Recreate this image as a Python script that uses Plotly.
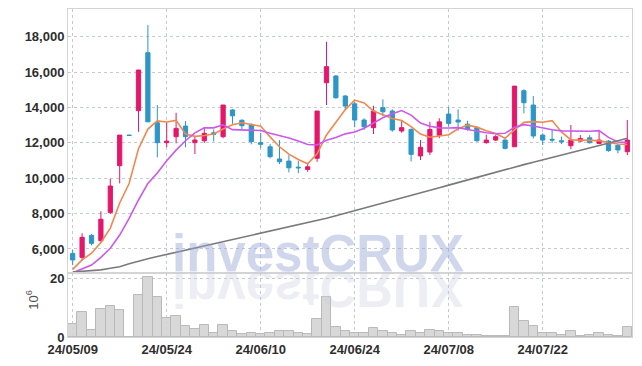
import plotly.graph_objects as go
from plotly.subplots import make_subplots

dates = ["24/05/09", "24/05/10", "24/05/13", "24/05/14", "24/05/16", "24/05/17", "24/05/20", "24/05/21", "24/05/22", "24/05/23",
         "24/05/24", "24/05/27", "24/05/28", "24/05/29", "24/05/30", "24/05/31", "24/06/03", "24/06/04", "24/06/05", "24/06/07",
         "24/06/10", "24/06/11", "24/06/12", "24/06/13", "24/06/14", "24/06/17", "24/06/18", "24/06/19", "24/06/20", "24/06/21",
         "24/06/24", "24/06/25", "24/06/26", "24/06/27", "24/06/28", "24/07/01", "24/07/02", "24/07/03", "24/07/04", "24/07/05",
         "24/07/08", "24/07/09", "24/07/10", "24/07/11", "24/07/12", "24/07/15", "24/07/16", "24/07/17", "24/07/18", "24/07/19",
         "24/07/22", "24/07/23", "24/07/24", "24/07/25", "24/07/26", "24/07/29", "24/07/30", "24/07/31", "24/08/01", "24/08/02"]

tick_labels = ["24/05/09", "24/05/24", "24/06/10", "24/06/24", "24/07/08", "24/07/22"]

open_ = [5750, 5530, 6770, 6470, 8070, 10710, 12440, 13820, 17100, 13140,
         12010, 12350, 12950, 12010, 12120, 12570, 12350, 13860, 13280, 13010,
         12010, 11780, 11090, 10970, 10630, 10500, 11130, 15400, 15780, 14650,
         14210, 13290, 12860, 13990, 13800, 12670, 12760, 11260, 11480, 12430,
         13630, 13290, 13060, 12860, 12010, 12160, 12160, 11780, 14950, 14140,
         12440, 12200, 12120, 11840, 12100, 12290, 11970, 12100, 11860, 11500]
high = [5940, 6890, 6850, 8130, 9970, 12440, 12450, 16120, 18660, 14140,
        13150, 13700, 13230, 12400, 12900, 12760, 14140, 13910, 13330, 13100,
        12570, 11930, 12160, 11310, 10990, 10880, 13800, 17720, 15830, 14700,
        14330, 13390, 14100, 14460, 13900, 13290, 12820, 12160, 13190, 13390,
        14040, 13900, 13250, 12920, 12460, 12440, 12200, 15210, 15030, 14650,
        12540, 12760, 12350, 13010, 12440, 12440, 12730, 12160, 11920, 13290]
low = [5080, 5340, 6210, 6410, 7970, 9710, 12410, 12630, 13190, 11180,
       11750, 11970, 11750, 11370, 12000, 12080, 12260, 13080, 12760, 11920,
       11690, 11120, 10800, 10330, 10280, 10370, 10930, 14140, 14500, 13860,
       12880, 12730, 12500, 13500, 12630, 12570, 10950, 11030, 11310, 12260,
       12910, 12690, 12690, 12060, 11960, 12100, 11630, 11780, 13670, 12250,
       11880, 12010, 11930, 11640, 12060, 11960, 11930, 11500, 11410, 11310]
close = [5380, 6660, 6320, 7680, 9560, 12440, 12420, 16120, 13190, 12010,
         12100, 12820, 12350, 12160, 12540, 12480, 14140, 13530, 12970, 12070,
         11920, 11220, 10930, 10590, 10590, 10650, 13800, 16310, 14550, 14080,
         13290, 12910, 13800, 13760, 12730, 12860, 11350, 11750, 12760, 13190,
         13100, 13180, 12760, 12120, 12160, 12350, 11690, 15210, 14270, 12390,
         12160, 12160, 12060, 12160, 12250, 12010, 12160, 11560, 11600, 12160]

ma_short = [4850, 5380, 5760, 6360, 7180, 8600, 9700, 11670, 12780, 13240,
            13180, 13270, 12500, 12370, 12420, 12500, 12780, 13020, 13140, 13040,
            12940, 12340, 11780, 11360, 11060, 10820, 11380, 12450, 13180, 13880,
            14420, 14260, 13800, 13600, 13380, 13260, 12920, 12500, 12320, 12390,
            12460, 12800, 13000, 12890, 12680, 12530, 12260, 12740, 13160, 13200,
            13170, 13260, 12620, 12170, 12160, 12130, 12130, 12020, 11940, 11910]
ma_mid = [4650, 4850, 5090, 5530, 6040, 6790, 7730, 8770, 9710, 10300,
          10990, 11590, 12120, 12570, 12850, 12850, 13020, 12750, 12730, 12730,
          12700, 12550, 12420, 12270, 12100, 11910, 11880, 12150, 12300, 12510,
          12620, 12830, 13120, 13420, 13640, 13830, 13570, 13120, 12940, 12850,
          12840, 12860, 12760, 12650, 12570, 12520, 12540, 12880, 13030, 12950,
          12840, 12740, 12680, 12670, 12680, 12660, 12690, 12310, 12050, 12020]
ma_long = [4700, 4740, 4780, 4820, 4910, 5000, 5160, 5320, 5450, 5570,
           5690, 5800, 5920, 6030, 6160, 6280, 6420, 6530, 6640, 6760,
           6880, 6990, 7110, 7230, 7340, 7460, 7600, 7740, 7880, 8020,
           8160, 8310, 8450, 8590, 8740, 8880, 9020, 9160, 9310, 9460,
           9610, 9760, 9900, 10060, 10200, 10350, 10500, 10630, 10770, 10910,
           11040, 11180, 11310, 11450, 11580, 11720, 11850, 11990, 12120, 12260]

volume_m = [4.6, 8.5, 2.4, 9.6, 10.6, 9.2, 0.1, 14.3, 20.4, 13.6,
            6.5, 7.2, 3.8, 2.8, 4.1, 1.4, 4.1, 2.1, 1.1, 1.4,
            1.1, 1.4, 2.1, 2.1, 1.4, 1.1, 6.2, 13.6, 3.5, 1.9,
            1.5, 1.2, 2.9, 1.9, 1.2, 0.8, 1.9, 1.2, 2.5, 1.9,
            1.4, 1.4, 0.8, 0.8, 0.4, 0.4, 0.4, 10.2, 5.6, 3.8,
            1.2, 1.2, 0.8, 1.9, 0.4, 0.8, 1.2, 0.8, 0.4, 3.5]

price_ticks = [6000, 8000, 10000, 12000, 14000, 16000, 18000]
volume_ticks = [0, 20]

PINK = "#E5176A"
BLUE = "#2D96C6"
GRID = "#c5cad8"
LINE = "#d4d4d4"
TICKFONT = dict(family="Liberation Sans, Arial, sans-serif", size=13, weight="bold", color="#2e2e2e")

fig = make_subplots(rows=2, cols=1, shared_xaxes=True, vertical_spacing=0,
                    row_heights=[0.805, 0.195])

fig.add_trace(go.Candlestick(
    x=dates, open=open_, high=high, low=low, close=close,
    increasing=dict(line=dict(color=PINK, width=1), fillcolor=PINK),
    decreasing=dict(line=dict(color=BLUE, width=1), fillcolor=BLUE),
    whiskerwidth=0, showlegend=False, hoverinfo="skip"), row=1, col=1)

for series, color in [(ma_short, "#F0884F"), (ma_mid, "#CC58EE"), (ma_long, "#7a7a7a")]:
    fig.add_trace(go.Scatter(x=dates, y=series, mode="lines",
                             line=dict(color=color, width=1.6),
                             showlegend=False, hoverinfo="skip"), row=1, col=1)

fig.add_trace(go.Bar(x=dates, y=volume_m,
                     marker=dict(color="rgba(212,212,212,0.9)", line=dict(color="#b9b9b9", width=1)),
                     showlegend=False, hoverinfo="skip"), row=2, col=1)

axis_common = dict(showgrid=True, gridcolor=GRID, griddash="dot", gridwidth=1,
                   showline=True, mirror=True, linecolor=LINE, linewidth=1,
                   zeroline=False, ticks="", tickfont=TICKFONT, automargin=False)

fig.update_xaxes(type="category", range=[-0.5, 59.5], tickvals=tick_labels, ticktext=tick_labels,
                 **axis_common)
fig.update_xaxes(showticklabels=False, rangeslider_visible=False, row=1, col=1)
fig.update_xaxes(showticklabels=True, row=2, col=1)

fig.update_yaxes(range=[4640, 19570], tickvals=price_ticks, tickformat=",", row=1, col=1, **axis_common)
fig.update_yaxes(range=[0, 21.9], tickvals=volume_ticks, row=2, col=1, **axis_common)

fig.update_layout(
    width=642, height=366,
    margin=dict(l=68, r=10, t=9, b=29),
    paper_bgcolor="white", plot_bgcolor="white",
    bargap=0, boxgap=0.36,
    showlegend=False,
    annotations=[
        dict(text="investCRUX", xref="paper", yref="paper", x=0.444, y=0.162,
             xanchor="center", yanchor="bottom", showarrow=False,
             font=dict(family="Liberation Sans, Arial, sans-serif", size=51, weight="bold",
                       color="rgba(150,165,212,0.45)")),
        dict(text="investCRUX", xref="paper", yref="paper", x=0.444, y=0.162,
             xanchor="center", yanchor="bottom", showarrow=False,
             font=dict(family="Liberation Sans, Arial, sans-serif", size=51, weight="bold",
                       color="rgba(200,200,222,0.32)")),
        dict(text="10<sup>6</sup>", xref="paper", yref="paper", x=-0.063, y=0.115,
             xanchor="center", yanchor="middle", showarrow=False, textangle=-90,
             font=dict(family="Liberation Sans, Arial, sans-serif", size=13, color="#555555")),
    ],
)

flip_js = """
var gd = document.getElementById('{plot_id}');
var t = gd.querySelector('g.annotation[data-index="1"] text.annotation-text');
if (t) {
  var y = parseFloat(t.getAttribute('y'));
  t.setAttribute('transform', 'translate(0,' + (2 * y) + ') scale(1,-1)');
}
"""

fig.write_html("out.html", post_script=flip_js)
